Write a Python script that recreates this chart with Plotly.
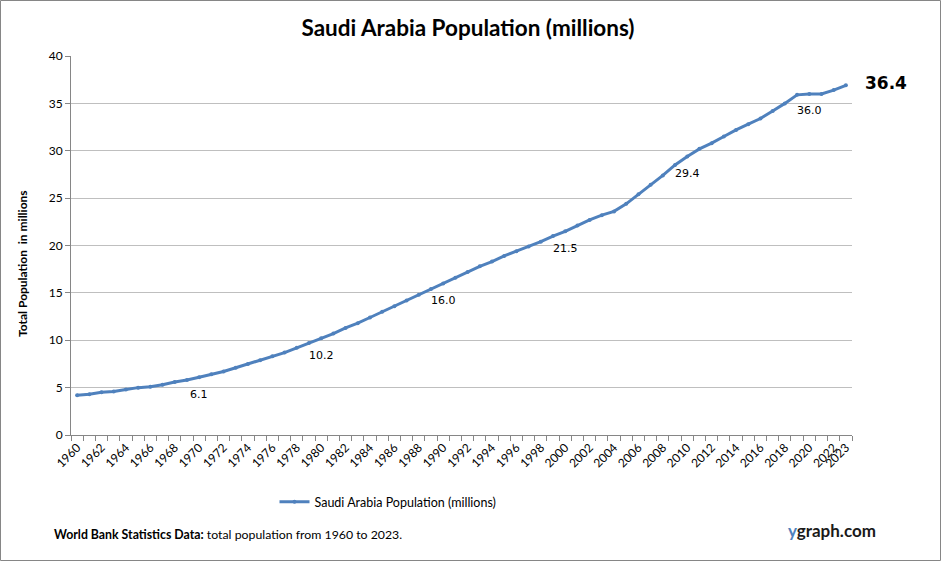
import plotly.graph_objects as go

years = list(range(1960, 2024))
population = [4.2, 4.3, 4.5, 4.6, 4.8, 5.0, 5.1, 5.3, 5.6, 5.8,
              6.1, 6.4, 6.7, 7.1, 7.5, 7.9, 8.3, 8.7, 9.2, 9.7,
              10.2, 10.7, 11.3, 11.8, 12.4, 13.0, 13.6, 14.2, 14.8, 15.4,
              16.0, 16.6, 17.2, 17.8, 18.3, 18.9, 19.4, 19.9, 20.4, 21.0,
              21.5, 22.1, 22.7, 23.2, 23.6, 24.4, 25.4, 26.4, 27.4, 28.5,
              29.4, 30.2, 30.8, 31.5, 32.2, 32.8, 33.4, 34.2, 35.0, 35.9,
              36.0, 36.0, 36.4, 36.9]
label_years = [1970, 1980, 1990, 2000, 2010, 2020]
label_texts = ["6.1", "10.2", "16.0", "21.5", "29.4", "36.0"]
last_label = "36.4"
tick_years = list(range(1960, 2023, 2)) + [2023]
tick_labels = [str(y) for y in tick_years]
y_ticks = [0, 5, 10, 15, 20, 25, 30, 35, 40]

W, H = 941, 561
ML, MR, MT, MB = 71, 89, 56, 126
PW, PH = W - ML - MR, H - MT - MB

def px(x):
    return (x - ML) / PW

def py(y):
    return (H - MB - y) / PH

fig = go.Figure()
fig.add_trace(go.Scatter(
    x=years, y=population, mode="lines+markers",
    name="Saudi Arabia Population (millions)",
    line=dict(color="#4F81BD", width=3),
    marker=dict(color="#4F81BD", size=4),
))

annotations = []
for yr, txt in zip(label_years, label_texts):
    val = population[years.index(yr)]
    annotations.append(dict(x=yr, y=val, text=txt, showarrow=False, yshift=-17,
                            font=dict(family="DejaVu Sans", size=11, color="#000000")))
annotations.append(dict(x=years[-1], y=population[-1], text="<b>" + last_label + "</b>",
                        showarrow=False, xanchor="left", xshift=17, yshift=2,
                        font=dict(family="DejaVu Sans", size=17, color="#000000")))
annotations.append(dict(xref="paper", yref="paper", x=px(52), y=py(534), xanchor="left",
                        yanchor="middle", showarrow=False,
                        text="<b>World Bank Statistics Data:</b> total population from 1960 to 2023.",
                        font=dict(family="Lato", size=12.3, color="#000000")))
annotations.append(dict(xref="paper", yref="paper", x=px(786), y=py(530), xanchor="left",
                        yanchor="middle", showarrow=False,
                        text="<b><span style='color:#4F81BD'>y</span>graph.com</b>",
                        font=dict(family="Lato", size=17, color="#1a1a1a")))
annotations.append(dict(xref="paper", yref="paper", x=px(22), y=py(264), xanchor="center",
                        yanchor="middle", showarrow=False, textangle=-90,
                        text="<b>Total Population  in millions</b>",
                        font=dict(family="Lato", size=12, color="#000000")))

fig.update_layout(
    width=W, height=H,
    margin=dict(l=ML, r=MR, t=MT, b=MB),
    paper_bgcolor="white", plot_bgcolor="white",
    title=dict(text="<b>Saudi Arabia Population (millions)</b>", x=468 / W, xanchor="center",
               y=1 - 28 / H, yanchor="middle",
               font=dict(family="Lato", size=22.5, color="#000000")),
    showlegend=True,
    legend=dict(orientation="h", x=px(388), xanchor="center", y=py(502), yanchor="middle",
                font=dict(family="Lato", size=12.5, color="#000000")),
    annotations=annotations,
    shapes=[dict(type="rect", xref="paper", yref="paper",
                 x0=px(0.5), x1=px(W - 0.5), y0=py(H - 0.5), y1=py(0.5),
                 line=dict(color="#868686", width=1), layer="below")],
)
fig.update_xaxes(
    range=[1959.5, 2023.5], tickmode="array", tickvals=tick_years, ticktext=tick_labels,
    tickangle=-45, ticks="", showgrid=False, zeroline=False,
    showline=True, linecolor="#868686", linewidth=1,
    tickfont=dict(family="Lato", size=12, color="#000000"),
    minor=dict(tickmode="array", tickvals=[y - 0.5 for y in years] + [2023.5],
               ticks="outside", ticklen=5, tickcolor="#868686", showgrid=False),
)
fig.update_yaxes(
    range=[0, 40], tickmode="array", tickvals=y_ticks, ticks="outside", ticklen=5,
    tickcolor="#868686", showgrid=True, gridcolor="#BFBFBF", zeroline=False,
    showline=True, linecolor="#868686", linewidth=1,
    tickfont=dict(family="Lato", size=12, color="#000000"),
)
fig.write_html("out.html")
